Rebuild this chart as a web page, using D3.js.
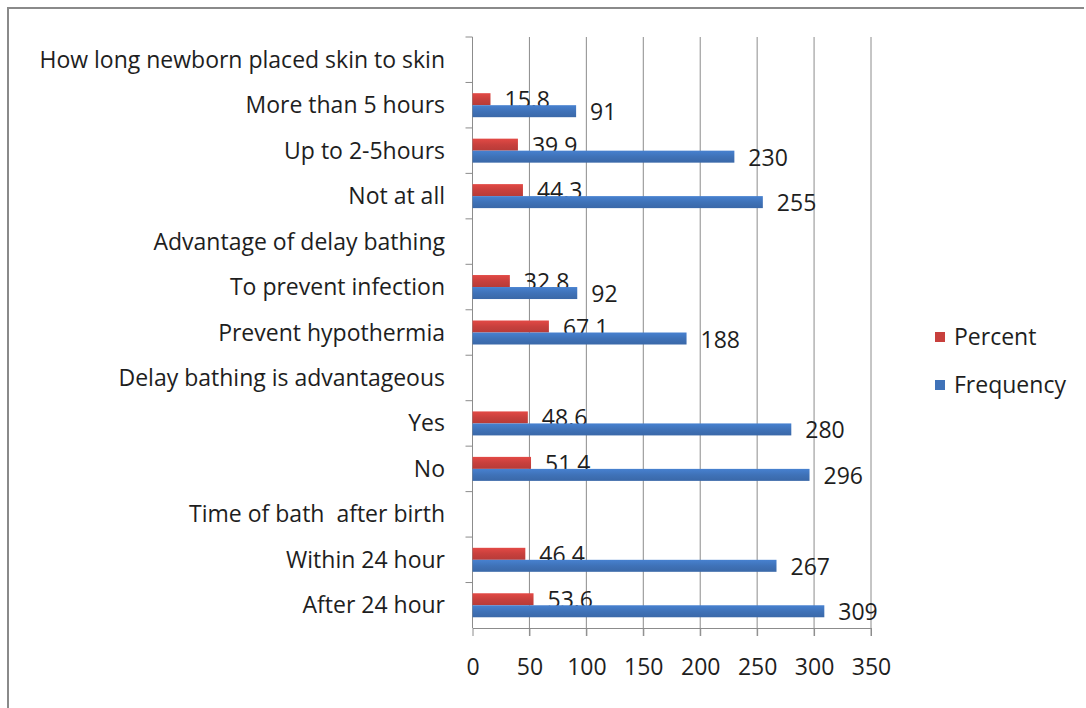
<!DOCTYPE html>
<html lang="en">
  <head>
    <meta charset="UTF-8" />
    <title>Newborn bathing and skin to skin</title>
    <script src="https://d3js.org/d3.v7.min.js"></script>
    <style>
      body {
        margin: 0;
        background: #fff;
      }
      text {
        font-family: "Open Sans", Lato, sans-serif;
        fill: #1e1e1e;
        white-space: pre;
      }
      .grid line {
        stroke: #8c8c8c;
        stroke-width: 1px;
      }
    </style>
  </head>
  <body>
    <svg width="1086" height="708"></svg>

    <script>
      var categories = [
        "How long newborn placed skin to skin",
        "More than 5 hours",
        "Up to 2-5hours",
        "Not at all",
        "Advantage of delay bathing",
        "To prevent infection",
        "Prevent hypothermia",
        "Delay bathing is advantageous",
        "Yes",
        "No",
        "Time of bath  after birth",
        "Within 24 hour",
        "After 24 hour",
      ];
      var percent = [null, 15.8, 39.9, 44.3, null, 32.8, 67.1, null, 48.6, 51.4, null, 46.4, 53.6];
      var frequency = [null, 91, 230, 255, null, 92, 188, null, 280, 296, null, 267, 309];
      var xTicks = [0, 50, 100, 150, 200, 250, 300, 350];
      var seriesNames = ["Percent", "Frequency"];
      var seriesColors = ["#c8403d", "#3f72b8"];

      var fontSize = "23px";
      var svg = d3.select("svg");

      // frame (only top and left edges are visible in the picture)
      svg
        .append("path")
        .attr("d", "M8,712 L8,8 L1084,8")
        .attr("fill", "none")
        .attr("stroke", "#8a8a8a")
        .attr("stroke-width", 2);

      var x = d3.scaleLinear().domain([0, 350]).range([472.5, 871]);
      var y = d3.scaleBand().domain(categories).range([37, 628]);
      var inner = d3.scaleBand().domain(seriesNames).range([y.bandwidth() / 2 - 12, y.bandwidth() / 2 + 12]);

      var defs = svg.append("defs");
      seriesColors.forEach(function (c, i) {
        var g = defs
          .append("linearGradient")
          .attr("id", "grad" + i)
          .attr("x1", 0)
          .attr("y1", 0)
          .attr("x2", 0)
          .attr("y2", 1);
        g.append("stop").attr("offset", "0%").attr("stop-color", d3.color(c).brighter(0.35));
        g.append("stop").attr("offset", "50%").attr("stop-color", c);
        g.append("stop").attr("offset", "100%").attr("stop-color", d3.color(c).darker(0.25));
      });

      // vertical grid lines
      svg
        .append("g")
        .attr("class", "grid")
        .selectAll("line")
        .data(xTicks.slice(1))
        .enter()
        .append("line")
        .attr("x1", function (d) {
          return x(d);
        })
        .attr("x2", function (d) {
          return x(d);
        })
        .attr("y1", 37)
        .attr("y2", 636);

      // x axis
      var xAxis = svg
        .append("g")
        .attr("transform", "translate(0,628)")
        .call(d3.axisBottom(x).tickValues(xTicks).tickSize(8).tickSizeOuter(0).tickPadding(23));
      xAxis.select(".domain").attr("stroke", "#8c8c8c");
      xAxis.selectAll(".tick line").attr("stroke", "#8c8c8c");
      xAxis.selectAll("text").style("font-size", fontSize).attr("fill", "#1e1e1e");

      // y axis: ticks at category boundaries
      var yAxis = svg.append("g");
      yAxis
        .append("line")
        .attr("x1", x(0))
        .attr("x2", x(0))
        .attr("y1", 37)
        .attr("y2", 628)
        .attr("stroke", "#8c8c8c");
      yAxis
        .selectAll(".btick")
        .data(categories)
        .enter()
        .append("line")
        .attr("x1", x(0) - 7)
        .attr("x2", x(0))
        .attr("y1", function (d) {
          return y(d);
        })
        .attr("y2", function (d) {
          return y(d);
        })
        .attr("stroke", "#8c8c8c");
      yAxis
        .selectAll(".clabel")
        .data(categories)
        .enter()
        .append("text")
        .attr("x", 445)
        .attr("y", function (d) {
          return y(d) + y.bandwidth() / 2;
        })
        .attr("dy", "0.35em")
        .attr("text-anchor", "end")
        .style("font-size", fontSize)
        .text(function (d) {
          return d;
        });

      // bars
      var series = [percent, frequency];
      series.forEach(function (vals, si) {
        var rows = categories
          .map(function (c, i) {
            return { cat: c, v: vals[i] };
          })
          .filter(function (d) {
            return d.v !== null;
          });
        var g = svg.append("g");
        g.selectAll("rect")
          .data(rows)
          .enter()
          .append("rect")
          .attr("x", x(0))
          .attr("y", function (d) {
            return y(d.cat) + inner(seriesNames[si]);
          })
          .attr("width", function (d) {
            return x(d.v) - x(0);
          })
          .attr("height", inner.bandwidth())
          .attr("fill", "url(#grad" + si + ")");
        g.selectAll("text")
          .data(rows)
          .enter()
          .append("text")
          .attr("x", function (d) {
            return x(d.v) + 14;
          })
          .attr("y", function (d) {
            return y(d.cat) + inner(seriesNames[si]) + inner.bandwidth() / 2 + 1;
          })
          .attr("dy", "0.35em")
          .style("font-size", fontSize)
          .text(function (d) {
            return d.v;
          });
      });

      // legend
      var legend = svg
        .append("g")
        .selectAll("g")
        .data(seriesNames)
        .enter()
        .append("g")
        .attr("transform", function (d, i) {
          return "translate(935," + (337 + i * 48) + ")";
        });
      legend
        .append("rect")
        .attr("x", 0)
        .attr("y", -5)
        .attr("width", 10)
        .attr("height", 10)
        .attr("fill", function (d, i) {
          return seriesColors[i];
        });
      legend
        .append("text")
        .attr("x", 19)
        .attr("dy", "0.35em")
        .style("font-size", fontSize)
        .text(function (d) {
          return d;
        });
    </script>
  </body>
</html>
